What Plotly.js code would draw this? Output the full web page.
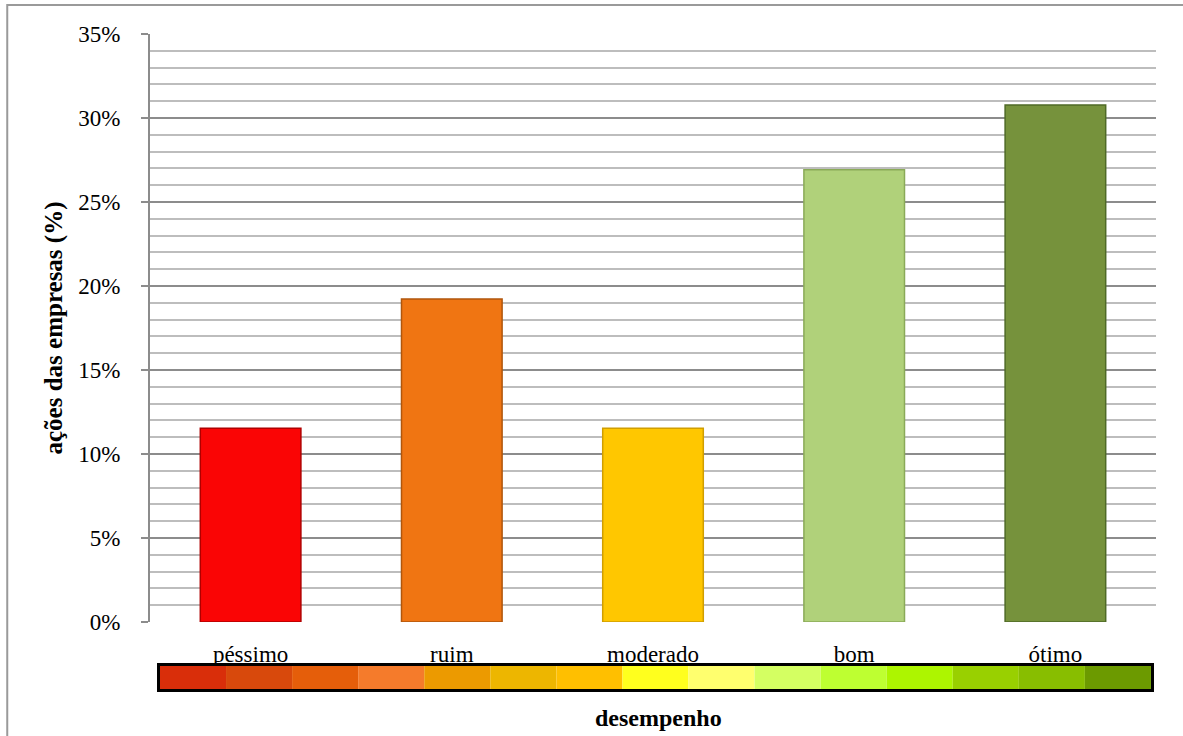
<!DOCTYPE html>
<html>
<head>
<meta charset="utf-8">
<script src="https://cdn.plot.ly/plotly-3.0.1.min.js"></script>
<style>
  html, body { margin: 0; padding: 0; background: #fff; }
  #chart { width: 1183px; height: 736px; }
</style>
</head>
<body>
<div id="chart"></div>
<script>
// Share of companies' stocks by performance class
const categories = ['péssimo', 'ruim', 'moderado', 'bom', 'ótimo'];
const shares = [0.1154, 0.1923, 0.1154, 0.2692, 0.3077];
const barColors = ['#FA0505', '#F07512', '#FFC700', '#B0D17A', '#76923C'];
const barEdges = ['#B00000', '#B0560C', '#D09E00', '#8AAA58', '#4F6A26'];

// Performance scale strip shown under the categories (red = worst, green = best)
const scaleColors = ['#D92E0A', '#D8490C', '#E55E0A', '#F57B2B', '#EC9A00',
                     '#EDB600', '#FFBF00', '#FFFF1E', '#FFFF6E', '#D4FF62',
                     '#BEFF31', '#ADF500', '#99D000', '#88BE00', '#6C9A00'];
const scaleSteps = scaleColors.map((c, i) => i);
const scaleHeights = scaleColors.map(() => 1);

const serif = 'Liberation Serif, Times New Roman, serif';

const traces = [
  {
    type: 'bar',
    x: categories,
    y: shares,
    marker: { color: barColors, line: { color: barEdges, width: 1.5 } },
    hoverinfo: 'x+y',
    xaxis: 'x', yaxis: 'y'
  },
  {
    type: 'bar',
    x: scaleSteps,
    y: scaleHeights,
    width: 1,
    marker: { color: scaleColors, line: { width: 0 } },
    hoverinfo: 'skip',
    xaxis: 'x2', yaxis: 'y2'
  }
];

const layout = {
  width: 1183,
  height: 736,
  margin: { l: 150, r: 27, t: 34, b: 36 },
  paper_bgcolor: '#ffffff',
  plot_bgcolor: '#ffffff',
  showlegend: false,
  bargap: 0.5,
  font: { family: serif, size: 22, color: '#000' },
  xaxis: {
    domain: [0, 1],
    anchor: 'y',
    showgrid: false,
    zeroline: false,
    showline: false,
    ticks: '',
    tickfont: { family: serif, size: 23, color: '#000' },
    ticklabelstandoff: 16,
    fixedrange: true
  },
  yaxis: {
    domain: [0.1171, 1],
    anchor: 'x',
    range: [0, 0.35],
    dtick: 0.05,
    tickformat: '.0%',
    showline: true,
    linecolor: '#8c8c8c',
    linewidth: 2,
    ticks: 'outside',
    ticklen: 7,
    tickwidth: 2,
    tickcolor: '#8c8c8c',
    ticklabelstandoff: 16,
    tickfont: { family: serif, size: 23, color: '#000' },
    showgrid: true,
    gridcolor: '#8c8c8c',
    gridwidth: 2,
    zeroline: false,
    minor: { dtick: 0.01, showgrid: true, gridcolor: '#bdbdbd', gridwidth: 2 },
    title: {
      text: '<b>ações das empresas (%)</b>',
      font: { family: serif, size: 25, color: '#000' },
      standoff: 8
    },
    fixedrange: true
  },
  xaxis2: {
    domain: [0.0099, 0.995],
    anchor: 'y2',
    range: [-0.5, 14.5],
    showgrid: false,
    zeroline: false,
    showticklabels: false,
    ticks: '',
    showline: true,
    mirror: true,
    linecolor: '#000',
    linewidth: 3,
    fixedrange: true
  },
  yaxis2: {
    domain: [0.0165, 0.0511],
    anchor: 'x2',
    range: [0, 1],
    showgrid: false,
    zeroline: false,
    showticklabels: false,
    ticks: '',
    showline: true,
    mirror: true,
    linecolor: '#000',
    linewidth: 3,
    fixedrange: true
  },
  annotations: [
    {
      text: '<b>desempenho</b>',
      xref: 'paper', yref: 'paper',
      x: 0.5, y: -0.027,
      xshift: 5,
      xanchor: 'center', yanchor: 'middle',
      showarrow: false,
      font: { family: serif, size: 24, color: '#000' }
    }
  ],
  shapes: [
    {
      type: 'rect', xref: 'paper', yref: 'paper',
      x0: -0.1419, x1: 1.04, y0: -0.08, y1: 1.0435,
      line: { color: '#9a9a9a', width: 2 },
      fillcolor: 'rgba(0,0,0,0)',
      layer: 'below'
    }
  ]
};

Plotly.newPlot('chart', traces, layout, { displayModeBar: false, staticPlot: true });
</script>
</body>
</html>
